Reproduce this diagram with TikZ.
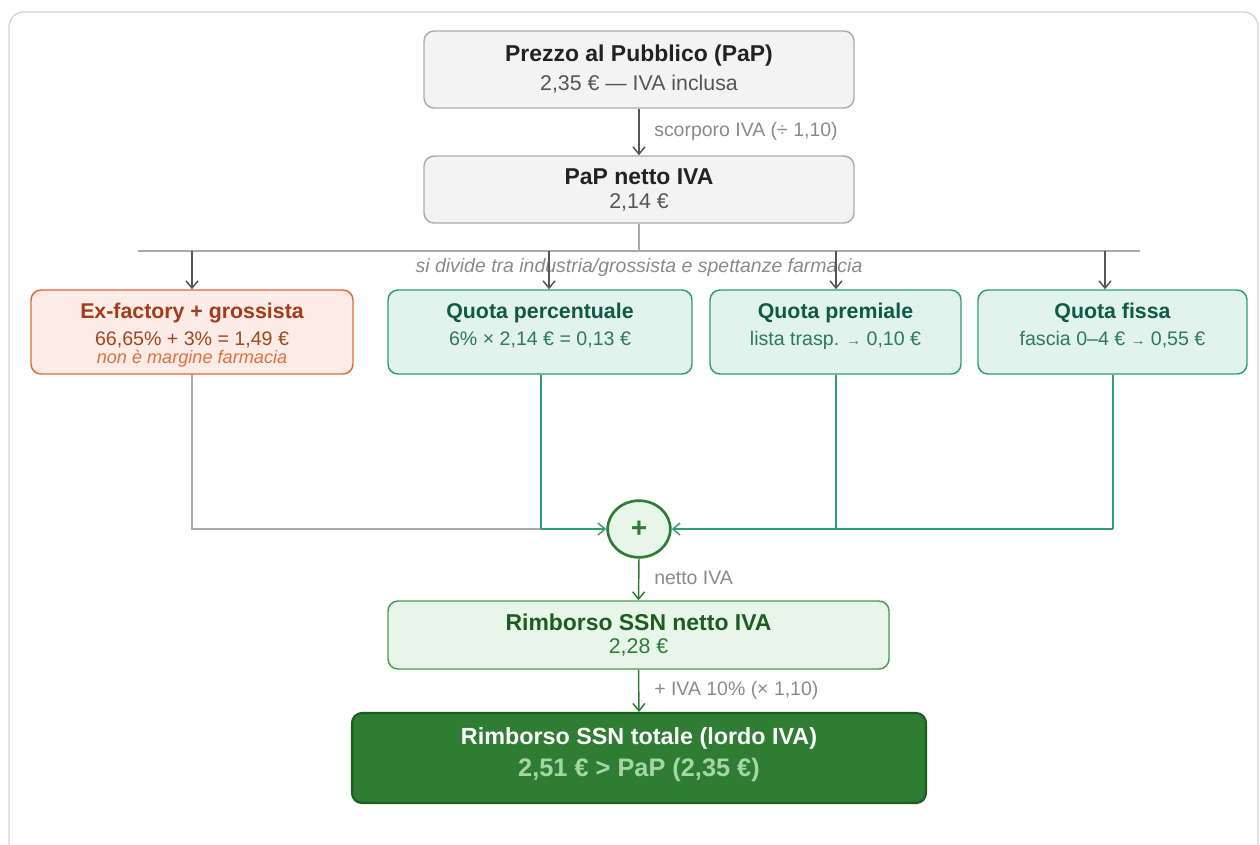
\documentclass[tikz,border=0pt]{standalone}
\usepackage{fontspec}
\setmainfont{Liberation Sans}
\usetikzlibrary{arrows.meta,shapes.geometric}
\definecolor{frameC}{HTML}{D4D4D4}
\definecolor{grayF}{HTML}{F3F3F3}
\definecolor{grayS}{HTML}{ABABAB}
\definecolor{titleK}{HTML}{222222}
\definecolor{subK}{HTML}{555555}
\definecolor{lblK}{HTML}{8A8A8A}
\definecolor{arrK}{HTML}{555555}
\definecolor{lineK}{HTML}{AAAAAA}
\definecolor{orS}{HTML}{E0683D}
\definecolor{orF}{HTML}{FBECE7}
\definecolor{orT}{HTML}{A23C1C}
\definecolor{orSub}{HTML}{A2461F}
\definecolor{orI}{HTML}{E0703F}
\definecolor{tlS}{HTML}{2E9E74}
\definecolor{tlF}{HTML}{E1F3EC}
\definecolor{tlT}{HTML}{0F5A45}
\definecolor{tlSub}{HTML}{2B7A60}
\definecolor{grS}{HTML}{2E7D32}
\definecolor{grF}{HTML}{E8F5E9}
\definecolor{grT}{HTML}{1B5E20}
\definecolor{grB}{HTML}{4C9A50}
\definecolor{grV}{HTML}{A5D6A7}
\tikzset{
  box/.style={rounded corners=7.5pt, line width=1.1pt, inner sep=0pt},
  graybox/.style={box, draw=grayS, fill=grayF},
  orbox/.style={box, draw=orS, fill=orF},
  tlbox/.style={box, draw=tlS, fill=tlF},
  grbox/.style={box, draw=grB, fill=grF},
  finbox/.style={box, draw=grT, fill=grS, line width=1.6pt},
  txt/.style={inner sep=0pt, anchor=center},
  ttl/.style={txt, font=\fontsize{17.2}{20}\selectfont\bfseries},
  sub/.style={txt, font=\fontsize{16}{19}\selectfont},
  rttl/.style={txt, font=\fontsize{16}{19}\selectfont\bfseries},
  rsub/.style={txt, font=\fontsize{14.7}{17}\selectfont},
  lbl/.style={inner sep=0pt, anchor=west, text=lblK, font=\fontsize{14.6}{17}\selectfont},
  arr/.style={-{Straight Barb[length=5.5pt,width=9pt]}, line width=1.1pt},
}
\begin{document}
\begin{tikzpicture}[x=0.75pt,y=-0.75pt]
\useasboundingbox (0,0) rectangle (1260,844);
\draw[frameC, line width=1pt, rounded corners=11pt] (9,12) rectangle (1258,860);

% top boxes
\node[graybox, minimum width=322.5pt, minimum height=57.75pt] (pap) at (639,69.5) {};
\node[ttl, text=titleK] (papT) at (639,56) {Prezzo al Pubblico (PaP)};
\node[sub, text=subK] (papS) at (639,84) {2,35 € — IVA inclusa};

\node[graybox, minimum width=322.5pt, minimum height=50.25pt] (net) at (639,189.5) {};
\node[ttl, text=titleK] (netT) at (639,177) {PaP netto IVA};
\node[sub, text=subK] (netS) at (639,202) {2,14 €};

\draw[arr, arrK] (pap.south) -- (net.north);
\node[lbl] (l1) at (654,131) {scorporo IVA (÷ 1,10)};

% split
\coordinate (sp) at (639,251);
\coordinate (sl) at (138,251);
\coordinate (sr) at (1140,251);
\draw[lineK, line width=1.1pt] (net.south) -- (sp);
\draw[lineK, line width=1.1pt] (sl) -- (sr);
\node[inner sep=0pt, text=lblK, font=\fontsize{14.6}{17}\selectfont\itshape] (l2) at (639,267) {si divide tra industria/grossista e spettanze farmacia};

% row boxes
\node[orbox, minimum width=241.5pt, minimum height=63pt] (ex) at (192,332) {};
\node[rttl, text=orT] (exT) at (192,313) {Ex-factory + grossista};
\node[rsub, text=orSub] (exS) at (192,340) {66,65\% + 3\% = 1,49 €};
\node[rsub, text=orI, font=\fontsize{13.6}{16}\selectfont\itshape] (exI) at (192,358.5) {non è margine farmacia};

\node[tlbox, minimum width=228pt, minimum height=63pt] (qp) at (540,332) {};
\node[rttl, text=tlT] (qpT) at (540,313) {Quota percentuale};
\node[rsub, text=tlSub] (qpS) at (540,340) {6\% × 2,14 € = 0,13 €};

\node[tlbox, minimum width=188.25pt, minimum height=63pt] (qm) at (835.5,332) {};
\node[rttl, text=tlT] (qmT) at (835.5,313) {Quota premiale};
\node[rsub, text=tlSub] (qmS) at (835.5,340) {lista trasp. {\fontsize{11}{12}\selectfont →} 0,10 €};

\node[tlbox, minimum width=201.75pt, minimum height=63pt] (qf) at (1112.5,332) {};
\node[rttl, text=tlT] (qfT) at (1112.5,313) {Quota fissa};
\node[rsub, text=tlSub] (qfS) at (1112.5,340) {fascia 0–4 € {\fontsize{11}{12}\selectfont →} 0,55 €};

\draw[arr, arrK] (192,251) -- (ex.north -| 192,0);
\draw[arr, arrK] (549,251) -- (qp.north -| 549,0);
\draw[arr, arrK] (836,251) -- (qm.north -| 836,0);
\draw[arr, arrK] (1105,251) -- (qf.north -| 1105,0);

% sum
\node[ellipse, draw=grS, fill=grF, line width=2pt, minimum width=47pt, minimum height=42.5pt, inner sep=0pt, text=grS, font=\fontsize{21}{22}\selectfont\bfseries] (sum) at (639,529) {+};

\coordinate (exc) at (192,529);
\coordinate (qpc) at (541,529);
\coordinate (qmc) at (836,529);
\coordinate (qfc) at (1113,529);
\draw[lineK, line width=1.1pt] (ex.south -| exc) -- (exc) -- (qpc);
\draw[tlS, line width=1.1pt] (qp.south -| qpc) -- (qpc);
\draw[arr, tlS] (qpc) -- (sum.west);
\draw[tlS, line width=1.1pt] (qm.south -| qmc) -- (qmc);
\draw[tlS, line width=1.1pt] (qf.south -| qfc) -- (qfc);
\draw[arr, tlS] (qfc) -- (sum.east);

% result boxes
\node[grbox, minimum width=375.75pt, minimum height=51pt] (rn) at (638.5,635) {};
\node[ttl, text=grT] (rnT) at (638.5,622) {Rimborso SSN netto IVA};
\node[sub, text=grS] (rnS) at (638.5,647) {2,28 €};

\draw[arr, grS] (sum.south) -- (rn.north);
\node[lbl] (l3) at (654,578) {netto IVA};

\node[finbox, minimum width=430.5pt, minimum height=67.5pt] (rt) at (639,758) {};
\node[ttl, text=white, font=\fontsize{17.5}{20}\selectfont\bfseries] (rtT) at (639,738) {Rimborso SSN totale (lordo IVA)};
\node[txt, text=grV, font=\fontsize{19}{22}\selectfont\bfseries] (rtV) at (639,770) {2,51 € > PaP (2,35 €)};

\draw[arr, grS] (rn.south) -- (rt.north);
\node[lbl] (l4) at (654,690) {+ IVA 10\% (× 1,10)};
\end{tikzpicture}
\end{document}
